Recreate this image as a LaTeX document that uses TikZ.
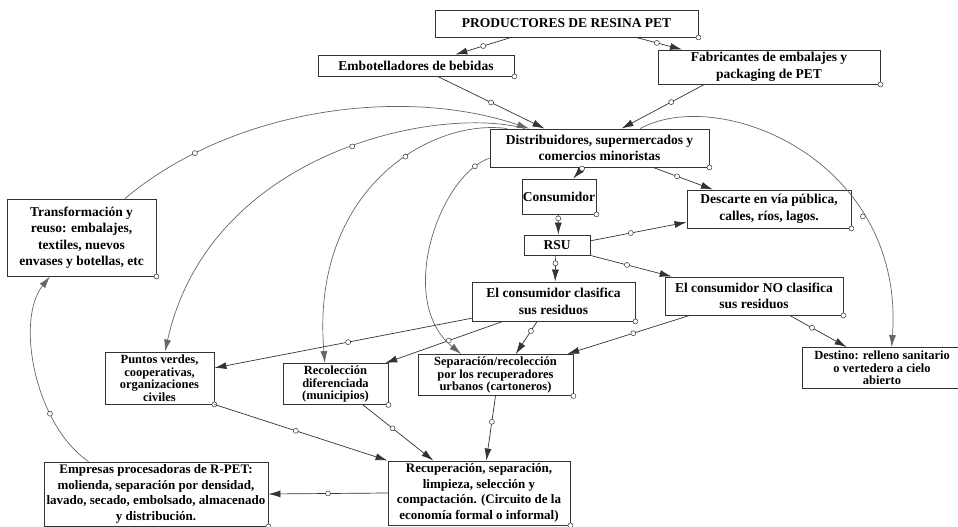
\documentclass[tikz,border=0pt]{standalone}
\usepackage{fontspec}
\setmainfont{Liberation Serif}
\usetikzlibrary{arrows.meta,calc}
\begin{document}
\begin{tikzpicture}[x=1pt,y=-1pt,
  box/.style={draw=black!80, line width=0.9pt, fill=white, inner sep=0pt, align=center,
    font=\bfseries\fontsize{13.5}{16.5}\selectfont},
  cbox/.style={box, font=\bfseries\fontsize{12.5}{12.5}\selectfont},
  wbox/.style={box, font=\bfseries\fontsize{13}{15.5}\selectfont},
  conn/.style={draw=black!80, line width=0.7pt, -{Latex[length=12pt,width=7pt]}},
  curv/.style={conn, draw=black!60},
  mid/.style={circle, draw=black!80, fill=white, line width=0.5pt, inner sep=0pt, minimum size=5pt},
]
\fill[white] (0,0) rectangle (958,527);
\useasboundingbox (0,0) rectangle (958,527);

% boxes
\node[box, minimum width=263pt, minimum height=27pt] (prod) at (566.5,23.5) {PRODUCTORES DE RESINA PET};
\node[box, minimum width=196pt, minimum height=21pt] (emb) at (416,65.5) {Embotelladores de bebidas};
\node[box, minimum width=222pt, minimum height=34pt] (fab) at (769,67) {Fabricantes de embalajes y\\packaging de PET};
\node[box, minimum width=219pt, minimum height=38pt] (dist) at (599.5,148) {Distribuidores, supermercados y\\comercios minoristas};
\node[box, minimum width=74pt, minimum height=35pt] (cons) at (559,196.5) {Consumidor};
\node[box, minimum width=164pt, minimum height=38pt] (desc) at (769,209) {Descarte en vía pública,\\calles, ríos, lagos.};
\node[box, minimum width=66pt, minimum height=20pt] (rsu) at (557,245) {RSU};
\node[box, minimum width=149pt, minimum height=77pt] (trans) at (81.5,237.5) {Transformación y\\reuso: embalajes,\\textiles, nuevos\\envases y botellas, etc};
\node[box, minimum width=163pt, minimum height=39pt] (clas) at (553.5,301.5) {El consumidor clasifica\\sus residuos};
\node[box, minimum width=178pt, minimum height=38pt] (nocl) at (754,296) {El consumidor NO clasifica\\sus residuos};
\node[cbox, minimum width=109pt, minimum height=52pt] (ptos) at (159.5,378) {Puntos verdes,\\cooperativas,\\organizaciones\\civiles};
\node[cbox, minimum width=105pt, minimum height=41pt] (recol) at (335.5,384) {Recolección\\diferenciada\\(municipios)};
\node[cbox, minimum width=155pt, minimum height=41pt] (sep) at (495.5,375) {Separación/recolección\\por los recuperadores\\urbanos (cartoneros)};
\node[cbox, minimum width=160pt, minimum height=41pt] (dest) at (882,368) {Destino: relleno sanitario\\o vertedero a cielo\\abierto};
\node[wbox, minimum width=182pt, minimum height=64pt] (rec) at (479,493) {Recuperación, separación,\\limpieza, selección y\\compactación. (Circuito de la\\economía formal o informal)};
\node[wbox, minimum width=224pt, minimum height=64pt] (emp) at (156,494) {Empresas procesadoras de R-PET:\\molienda, separación por densidad,\\lavado, secado, embolsado, almacenado\\y distribución.};

% corner marks
\foreach \n in {prod,emb,fab,dist,cons,desc,trans,clas,nocl,ptos,recol,sep,rec,emp}
  \node[mid] (k\n) at (\n.south east) {};

% straight connectors
\draw[conn] ($(prod.south west)!.29!(prod.south east)$) -- ($(emb.north west)!.70!(emb.north east)$) node[mid,pos=.5] (m1) {};
\draw[conn] ($(prod.south west)!.764!(prod.south east)$) -- ($(fab.north west)!.11!(fab.north east)$) node[mid,pos=.45] (m2) {};
\draw[conn] ($(emb.south west)!.61!(emb.south east)$) -- ($(dist.north west)!.25!(dist.north east)$) node[mid,pos=.5] (m3) {};
\draw[conn] ($(fab.south west)!.21!(fab.south east)$) -- ($(dist.north west)!.60!(dist.north east)$) node[mid,pos=.4] (m4) {};
\draw[conn] ($(dist.south west)!.425!(dist.south east)$) -- ($(cons.north west)!.69!(cons.north east)$) node[mid,pos=.1] (m7) {};
\draw[conn] ($(dist.south west)!.744!(dist.south east)$) -- ($(desc.north west)!.16!(desc.north east)$) node[mid,pos=.4] (m8) {};
\draw[conn] ($(cons.south west)!.49!(cons.south east)$) -- ($(rsu.north west)!.52!(rsu.north east)$) node[mid,pos=.2] (m9) {};
\draw[conn] ($(rsu.north east)!.3!(rsu.south east)$) -- ($(desc.north west)!.84!(desc.south west)$) node[mid,pos=.42] (m10) {};
\draw[conn] (rsu.south east) -- ($(nocl.north west)!.04!(nocl.north east)$) node[mid,pos=.45] (m11) {};
\draw[conn] ($(rsu.south west)!.48!(rsu.south east)$) -- ($(clas.north west)!.51!(clas.north east)$) node[mid,pos=.3] (m12) {};
\draw[conn] ($(clas.north west)!.92!(clas.south west)$) -- ($(ptos.north east)!.31!(ptos.south east)$) node[mid,pos=.48] (m13) {};
\draw[conn] ($(clas.south west)!.19!(clas.south east)$) -- ($(recol.north west)!.97!(recol.north east)$) node[mid,pos=.46] (m14) {};
\draw[conn] ($(clas.south west)!.40!(clas.south east)$) -- ($(sep.north west)!.63!(sep.north east)$) node[mid,pos=.29] (m15) {};
\draw[conn] ($(nocl.south west)!.14!(nocl.south east)$) -- ($(sep.north west)!.96!(sep.north east)$) node[mid,pos=.46] (m16) {};
\draw[conn] ($(nocl.south west)!.70!(nocl.south east)$) -- ($(dest.north west)!.28!(dest.north east)$) node[mid,pos=.39] (m17) {};
\draw[conn] (ptos.south east) -- (rec.north west) node[mid,pos=.47] (m18) {};
\draw[conn] ($(recol.south west)!.76!(recol.south east)$) -- ($(rec.north west)!.25!(rec.north east)$) node[mid,pos=.42] (m19) {};
\draw[conn] ($(sep.south west)!.5!(sep.south east)$) -- ($(rec.north west)!.54!(rec.north east)$) node[mid,pos=.4] (m20) {};
\draw[conn] (rec.west) -- (emp.east) node[mid,pos=.5] (m21) {};

% curved connectors
\draw[curv] ($(trans.north west)!.79!(trans.north east)$) .. controls (230,110) and (400,85) .. ($(dist.north west)!.18!(dist.north east)$) node[mid,pos=.2] (m5) {};
\draw[curv] ($(dist.north west)!.16!(dist.north east)$) .. controls (440,105) and (210,150) .. ($(ptos.north west)!.55!(ptos.north east)$) node[mid,pos=.45] (m6) {};
\draw[curv] ($(dist.north west)!.08!(dist.north east)$) .. controls (430,118) and (310,190) .. ($(recol.north west)!.40!(recol.north east)$) node[mid,pos=.4] (m22) {};
\draw[curv] ($(dist.north west)!.76!(dist.south west)$) .. controls (440,175) and (395,300) .. ($(sep.north west)!.28!(sep.north east)$) node[mid,pos=.1] (m23) {};
\draw[curv] ($(dist.north west)!.685!(dist.north east)$) .. controls (720,85) and (905,160) .. ($(dest.north west)!.56!(dest.north east)$) node[mid,pos=.72] (m24) {};
\draw[curv] ($(emp.north west)!.2!(emp.north east)$) .. controls (35,425) and (15,320) .. ($(trans.south west)!.29!(trans.south east)$) node[mid,pos=.3] (m25) {};
\end{tikzpicture}
\end{document}
